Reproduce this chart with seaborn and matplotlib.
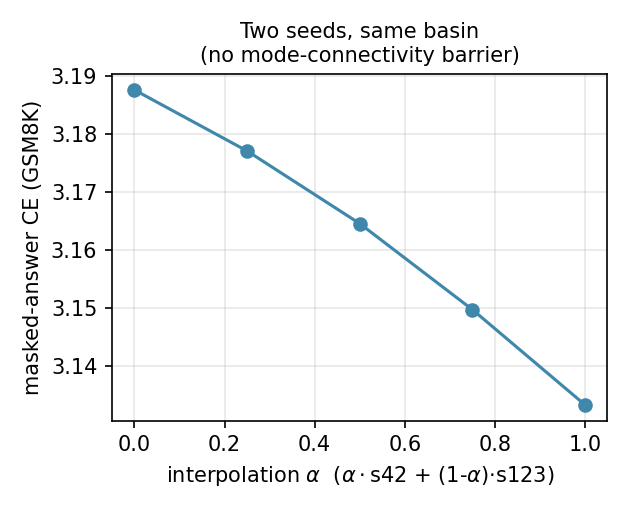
import matplotlib
matplotlib.use("Agg")
import matplotlib.pyplot as plt
import seaborn as sns
import pandas as pd

alpha = [0.0, 0.25, 0.5, 0.75, 1.0]
ce = [3.1876, 3.1771, 3.1646, 3.1498, 3.1334]

plt.rcParams['font.family'] = ['DejaVu Sans']

df = pd.DataFrame({"alpha": alpha, "ce": ce})
fig, ax = plt.subplots(figsize=(4.2, 3.4), dpi=150)
sns.lineplot(data=df, x="alpha", y="ce", marker="o", color="#3f88ab",
             markersize=7, markeredgewidth=0, linewidth=1.5, ax=ax)
ax.grid(True, alpha=0.3)
ax.set_xlabel(r"interpolation $\alpha$  ($\alpha\cdot$s42 + (1-$\alpha$)$\cdot$s123)", fontsize=10)
ax.set_ylabel("masked-answer CE (GSM8K)", fontsize=10)
ax.set_title("Two seeds, same basin\n(no mode-connectivity barrier)", fontsize=10)
ax.tick_params(labelsize=10)
fig.tight_layout()
fig.savefig("out.png", dpi=150)
